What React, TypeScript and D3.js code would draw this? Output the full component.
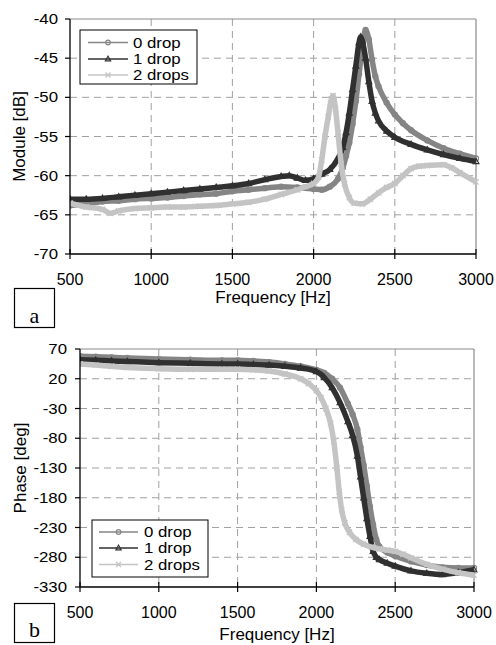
import React from 'react';
import * as d3 from 'd3';

type Pt = [number, number];

const freqTicks = [500, 1000, 1500, 2000, 2500, 3000];
const moduleTicks = [-40, -45, -50, -55, -60, -65, -70];
const phaseTicks = [70, 20, -30, -80, -130, -180, -230, -280, -330];
const seriesNames = ['0 drop', '1 drop', '2 drops'];
const seriesColors = ['#858585', '#303030', '#c4c4c4'];
const seriesMarkers = ['circle', 'triangle', 'cross'];

// Module [dB] vs frequency [Hz]
const module0: Pt[] = [
  [500, -63.8], [600, -63.6], [700, -63.3], [800, -63.2], [900, -63.0], [1000, -62.9],
  [1100, -62.8], [1200, -62.6], [1300, -62.4], [1400, -62.3], [1500, -62.0], [1600, -61.8],
  [1700, -61.6], [1800, -61.4], [1900, -61.5], [2000, -61.7], [2050, -61.8], [2100, -61.4],
  [2150, -60.4], [2180, -59.0], [2200, -57.5], [2220, -55.8], [2240, -53.4], [2260, -50.5],
  [2280, -47.0], [2300, -43.6], [2320, -41.4], [2340, -42.6], [2360, -45.2], [2380, -47.3],
  [2400, -48.6], [2450, -50.7], [2500, -52.2], [2550, -53.3], [2600, -54.2], [2700, -55.5],
  [2800, -56.5], [2900, -57.2], [3000, -57.8],
];
const module1: Pt[] = [
  [500, -63.0], [600, -63.0], [700, -62.9], [800, -62.7], [900, -62.5], [1000, -62.3],
  [1100, -62.1], [1200, -61.9], [1300, -61.7], [1400, -61.5], [1500, -61.3], [1600, -61.0],
  [1700, -60.5], [1800, -60.1], [1850, -60.0], [1900, -60.3], [1950, -60.6], [2000, -60.4],
  [2050, -59.8], [2100, -59.2], [2150, -57.8], [2180, -56.4], [2200, -54.5], [2220, -52.0],
  [2240, -49.0], [2260, -46.0], [2280, -43.0], [2290, -42.3], [2300, -42.8], [2320, -45.0],
  [2340, -48.0], [2360, -50.5], [2380, -52.0], [2400, -53.0], [2450, -54.3], [2500, -55.1],
  [2600, -56.0], [2700, -56.7], [2800, -57.3], [2900, -57.8], [3000, -58.2],
];
const module2: Pt[] = [
  [500, -63.5], [600, -64.0], [700, -64.3], [750, -64.8], [800, -64.5], [900, -64.2],
  [1000, -64.1], [1100, -64.0], [1200, -64.0], [1300, -63.9], [1400, -63.8], [1500, -63.6],
  [1600, -63.4], [1700, -63.0], [1800, -62.4], [1900, -61.8], [1950, -61.4], [2000, -61.0],
  [2030, -60.2], [2050, -58.0], [2070, -55.0], [2090, -52.5], [2110, -50.2], [2120, -49.8],
  [2135, -51.5], [2150, -54.5], [2170, -58.5], [2190, -61.0], [2220, -62.8], [2250, -63.5],
  [2300, -63.6], [2350, -63.0], [2400, -62.2], [2450, -61.5], [2500, -61.0], [2550, -60.0],
  [2600, -59.1], [2650, -58.8], [2700, -58.7], [2800, -58.6], [2850, -59.0], [2900, -59.6],
  [3000, -60.8],
];

// Phase [deg] vs frequency [Hz]
const phase0: Pt[] = [
  [500, 58], [600, 57], [700, 56], [800, 55], [1000, 53], [1200, 52], [1400, 51], [1500, 51],
  [1600, 50], [1700, 48], [1800, 45], [1900, 41], [2000, 35], [2050, 30], [2100, 20],
  [2150, 5], [2200, -22], [2230, -40], [2260, -65], [2280, -95], [2300, -125], [2320, -160],
  [2340, -195], [2360, -225], [2380, -250], [2400, -262], [2450, -272], [2500, -278],
  [2600, -287], [2700, -293], [2800, -297], [2900, -298], [3000, -298],
];
const phase1: Pt[] = [
  [500, 52], [600, 51], [700, 50], [800, 49], [1000, 47], [1200, 46], [1400, 45], [1500, 45],
  [1600, 44], [1700, 43], [1800, 41], [1900, 38], [2000, 32], [2050, 22], [2100, 5],
  [2150, -20], [2200, -52], [2230, -75], [2260, -110], [2280, -145], [2300, -180],
  [2320, -215], [2340, -245], [2360, -270], [2380, -280], [2400, -284], [2450, -290],
  [2500, -295], [2600, -303], [2700, -307], [2800, -309], [2900, -306], [3000, -301],
];
const phase2: Pt[] = [
  [500, 45], [600, 43], [700, 41], [800, 39], [1000, 37], [1200, 36], [1400, 36], [1500, 36],
  [1600, 35], [1700, 33], [1800, 28], [1900, 20], [1950, 12], [2000, 0], [2030, -12],
  [2060, -30], [2090, -55], [2110, -85], [2130, -130], [2145, -170], [2160, -200],
  [2180, -222], [2210, -238], [2250, -250], [2300, -258], [2350, -263], [2400, -266],
  [2450, -268], [2500, -270], [2550, -275], [2600, -281], [2700, -292], [2800, -300],
  [2900, -306], [3000, -310],
];

const FONT = "'Liberation Sans', Arial, Helvetica, sans-serif";

function Marker({ kind, color, x, y, s = 1 }: { kind: string; color: string; x: number; y: number; s?: number }) {
  if (kind === 'circle')
    return <circle cx={x} cy={y} r={2.6 * s} fill="none" stroke={color} strokeWidth={1.1} />;
  if (kind === 'triangle')
    return (
      <path
        transform={`translate(${x},${y})`}
        d={`M0,${-3.3 * s}L${3 * s},${2.1 * s}L${-3 * s},${2.1 * s}Z`}
        fill="none"
        stroke={color}
        strokeWidth={1.1}
      />
    );
  const r = 2.7 * s;
  return (
    <path
      transform={`translate(${x},${y})`}
      d={`M${-r},${-r}L${r},${r}M${-r},${r}L${r},${-r}`}
      stroke={color}
      strokeWidth={1.3}
      fill="none"
    />
  );
}

type ChartProps = {
  id: string;
  left: number; right: number; top: number; bottom: number;
  yTicks: number[];
  yTitle: string;
  series: Pt[][];
  legend: { x: number; y: number; w: number; h: number; rows: number[]; lx0: number; lx1: number; tx: number };
  tickLabelBase: number;
  titleBase: number;
  yLabelEnd: number;
  yTitleX: number;
  box: { x: number; y: number; w: number; h: number; letter: string; base: number };
};

function Chart(p: ChartProps) {
  const x = d3.scaleLinear().domain([500, 3000]).range([p.left, p.right]);
  const yMax = d3.max(p.yTicks) as number;
  const yMin = d3.min(p.yTicks) as number;
  const y = d3.scaleLinear().domain([yMin, yMax]).range([p.bottom, p.top]);
  const line = d3
    .line<Pt>()
    .x((d) => x(d[0]))
    .y((d) => y(d[1]))
    .curve(d3.curveMonotoneX);
  const cx = (p.left + p.right) / 2;
  const cy = (p.top + p.bottom) / 2;
  return (
    <g>
      <defs>
        <clipPath id={p.id}>
          <rect x={p.left} y={p.top - 4} width={p.right - p.left + 4} height={p.bottom - p.top + 4} />
        </clipPath>
      </defs>
      {p.yTicks
        .filter((t) => t !== yMax && t !== yMin)
        .map((t) => (
          <line key={'gy' + t} x1={p.left} x2={p.right} y1={y(t)} y2={y(t)} stroke="#a0a0a0" strokeWidth={1} strokeDasharray="7,5" />
        ))}
      {freqTicks
        .filter((t) => t !== 500 && t !== 3000)
        .map((t) => (
          <line key={'gx' + t} x1={x(t)} x2={x(t)} y1={p.top} y2={p.bottom} stroke="#a0a0a0" strokeWidth={1} strokeDasharray="7,5" />
        ))}
      <line x1={p.left} x2={p.right} y1={p.top} y2={p.top} stroke="#8a8a8a" strokeWidth={1.2} />
      <line x1={p.right} x2={p.right} y1={p.top} y2={p.bottom} stroke="#8a8a8a" strokeWidth={1.2} />
      <g clipPath={`url(#${p.id})`}>
        {p.series.map((s, i) => (
          <g key={'s' + i}>
            <path d={line(s) || ''} fill="none" stroke={seriesColors[i]} strokeWidth={5.5} strokeLinejoin="round" />
            {s.map((d, j) => (
              <Marker key={j} kind={seriesMarkers[i]} color={seriesColors[i]} x={x(d[0])} y={y(d[1])} />
            ))}
          </g>
        ))}
      </g>
      <line x1={p.left} x2={p.left} y1={p.top} y2={p.bottom} stroke="#000" strokeWidth={1.3} />
      <line x1={p.left} x2={p.right} y1={p.bottom} y2={p.bottom} stroke="#000" strokeWidth={1.3} />
      {p.yTicks.map((t) => (
        <g key={'yt' + t}>
          <line x1={p.left - 5} x2={p.left} y1={y(t)} y2={y(t)} stroke="#000" strokeWidth={1.2} />
          <text
            transform={`translate(${p.yLabelEnd},${y(t) + 5}) scale(1.2,1)`}
            textAnchor="end"
            fontFamily={FONT}
            fontSize={14}
            fill="#000"
          >
            {t}
          </text>
        </g>
      ))}
      {freqTicks.map((t) => (
        <g key={'xt' + t}>
          <line x1={x(t)} x2={x(t)} y1={p.bottom - 5} y2={p.bottom + 5} stroke="#000" strokeWidth={1.2} />
          <text x={x(t)} y={p.tickLabelBase} textAnchor="middle" fontFamily={FONT} fontSize={16} fill="#000">
            {t}
          </text>
        </g>
      ))}
      <text x={cx} y={p.titleBase} textAnchor="middle" fontFamily={FONT} fontSize={17} fill="#000">
        Frequency [Hz]
      </text>
      <text
        transform={`translate(${p.yTitleX},${cy}) rotate(-90)`}
        textAnchor="middle"
        fontFamily={FONT}
        fontSize={17}
        fill="#000"
      >
        {p.yTitle}
      </text>
      <rect x={p.legend.x} y={p.legend.y} width={p.legend.w} height={p.legend.h} fill="#fff" stroke="#000" strokeWidth={1} />
      {seriesNames.map((n, i) => {
        const ry = p.legend.rows[i];
        return (
          <g key={'lg' + i}>
            <line x1={p.legend.lx0} x2={p.legend.lx1} y1={ry} y2={ry} stroke={seriesColors[i]} strokeWidth={1.6} />
            <Marker kind={seriesMarkers[i]} color={seriesColors[i]} x={(p.legend.lx0 + p.legend.lx1) / 2} y={ry} s={0.9} />
            <text
              transform={`translate(${p.legend.tx},${ry + 5}) scale(1.2,1)`}
              fontFamily={FONT}
              fontSize={14}
              fill="#000"
            >
              {n}
            </text>
          </g>
        );
      })}
      <rect x={p.box.x} y={p.box.y} width={p.box.w} height={p.box.h} fill="#fff" stroke="#000" strokeWidth={1.2} />
      <text
        x={p.box.x + p.box.w / 2}
        y={p.box.base}
        textAnchor="middle"
        fontFamily="'Liberation Serif', 'Times New Roman', serif"
        fontSize={22}
        fill="#000"
      >
        {p.box.letter}
      </text>
    </g>
  );
}

export default function App() {
  return (
    <svg
      width={496}
      height={645}
      viewBox="0 0 496 645"
      style={{ position: 'absolute', left: 0, top: 0, background: '#fff', display: 'block' }}
    >
      <rect x={0} y={0} width={496} height={645} fill="#fff" />
      <Chart
        id="clipA"
        left={70}
        right={476}
        top={19}
        bottom={254}
        yTicks={moduleTicks}
        yTitle="Module [dB]"
        series={[module0, module1, module2]}
        legend={{ x: 80, y: 30, w: 117, h: 54, rows: [42.5, 59, 75], lx0: 88, lx1: 128, tx: 133 }}
        tickLabelBase={285}
        titleBase={303}
        yLabelEnd={58}
        yTitleX={25}
        box={{ x: 14.5, y: 288.5, w: 40, h: 39, letter: 'a', base: 323 }}
      />
      <Chart
        id="clipB"
        left={80}
        right={474}
        top={349}
        bottom={587}
        yTicks={phaseTicks}
        yTitle="Phase [deg]"
        series={[phase0, phase1, phase2]}
        legend={{ x: 92, y: 520, w: 116, h: 57, rows: [532, 548, 564.5], lx0: 99, lx1: 138, tx: 144 }}
        tickLabelBase={618}
        titleBase={640}
        yLabelEnd={67}
        yTitleX={26}
        box={{ x: 14.5, y: 603.5, w: 40, h: 39, letter: 'b', base: 637 }}
      />
    </svg>
  );
}
